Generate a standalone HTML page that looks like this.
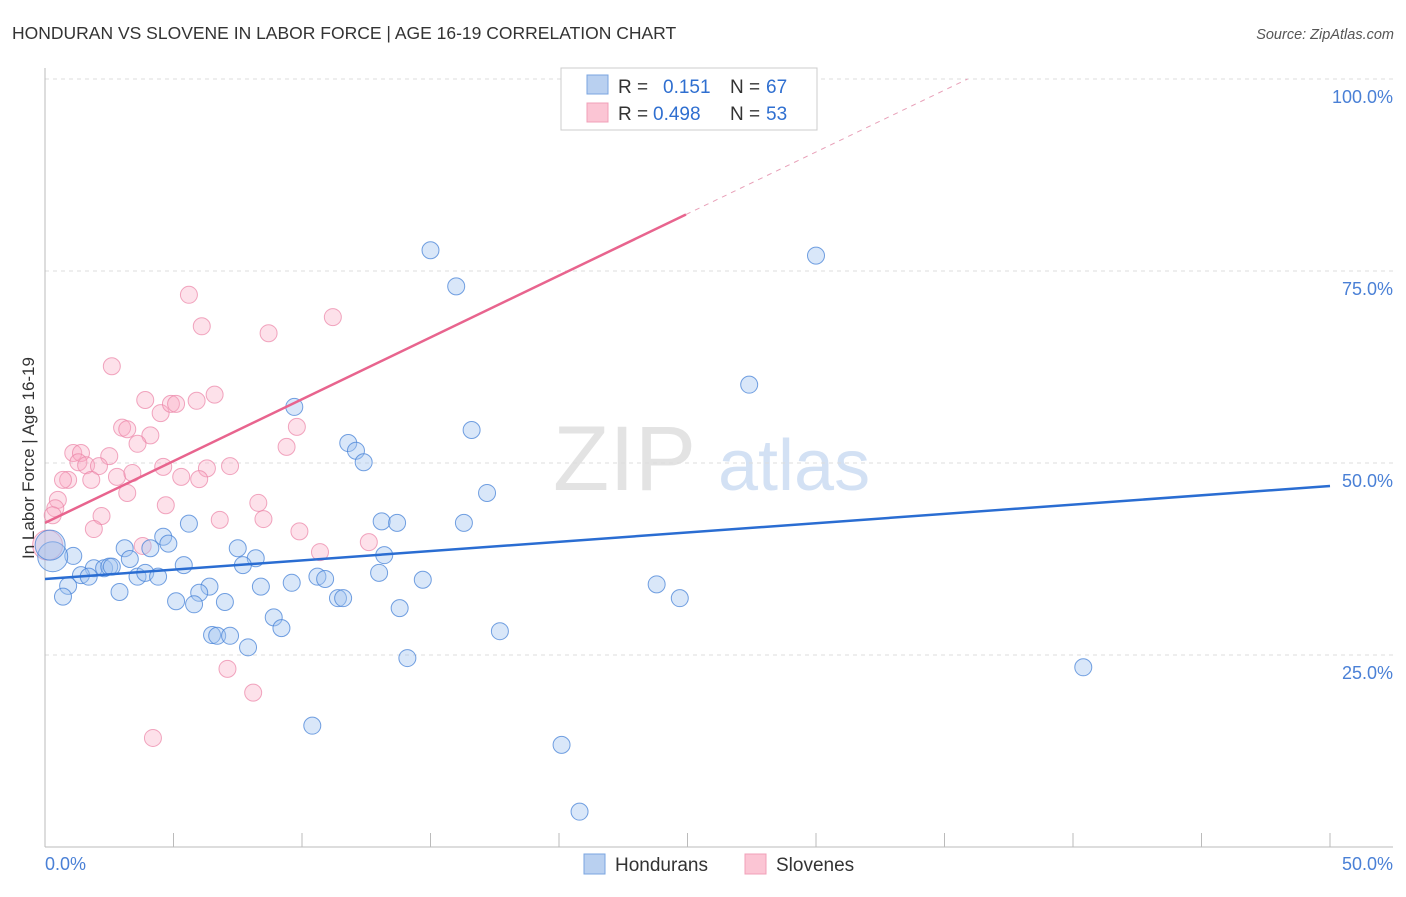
<!DOCTYPE html>
<html><head><meta charset="utf-8"><style>
body{margin:0;background:#fff;font-family:"Liberation Sans",sans-serif;}
svg text{font-family:"Liberation Sans",sans-serif;}
</style></head><body>
<svg id="chart" width="1406" height="892" xmlns="http://www.w3.org/2000/svg">
<text x="12" y="39" font-size="17.5" fill="#333">HONDURAN VS SLOVENE IN LABOR FORCE | AGE 16-19 CORRELATION CHART</text>
<text x="1394" y="39" font-size="14.5" fill="#555" text-anchor="end" font-style="italic">Source: ZipAtlas.com</text>
<g>
<text x="553" y="490" font-size="92" fill="#ddd" font-family="Liberation Serif" opacity="0.8">ZIP</text>
<text x="718" y="490" font-size="72" fill="#c9daf2" opacity="0.8">atlas</text>
</g>
<g id="grid"></g>
<g id="axes"></g>
<g id="marks"></g>
<text transform="translate(34,458) rotate(-90)" font-size="17" fill="#333" text-anchor="middle">In Labor Force | Age 16-19</text>
<g>
<rect x="561" y="68" width="256" height="62" fill="#fff" stroke="#ccc"/>
<rect x="587" y="75" width="21" height="19" fill="#b9d0f0" stroke="#7aa5e0"/>
<rect x="587" y="103" width="21" height="19" fill="#fbc5d4" stroke="#f0a0b8"/>
<text x="618" y="93" font-size="19" fill="#333">R = </text><text x="663" y="93" font-size="19" fill="#2f6fd0">0.151</text>
<text x="730" y="93" font-size="19" fill="#333">N = </text><text x="766" y="93" font-size="19" fill="#2f6fd0">67</text>
<text x="618" y="120" font-size="19" fill="#333">R = </text><text x="653" y="120" font-size="19" fill="#2f6fd0">0.498</text>
<text x="730" y="120" font-size="19" fill="#333">N = </text><text x="766" y="120" font-size="19" fill="#2f6fd0">53</text>
</g>
<g>
<rect x="584" y="854" width="21" height="20" fill="#b9d0f0" stroke="#7aa5e0"/>
<text x="615" y="871" font-size="19" fill="#333">Hondurans</text>
<rect x="745" y="854" width="21" height="20" fill="#fbc5d4" stroke="#f0a0b8"/>
<text x="776" y="871" font-size="19" fill="#333">Slovenes</text>
</g>
</svg>
<script>
const blueX=[15.0,16.0,30.0,27.4,9.7,16.6,11.8,12.1,12.4,17.2,5.6,13.1,13.7,16.3,4.6,4.8,3.1,4.1,7.5,1.1,3.3,8.2,7.7,13.2,5.4,1.9,2.3,2.5,2.6,1.4,1.7,3.6,3.9,4.4,9.6,10.6,10.9,13.0,14.7,23.8,6.4,6.0,0.9,2.9,8.4,0.7,5.1,5.8,7.0,11.4,11.6,13.8,24.7,8.9,9.2,6.5,6.7,7.2,7.9,17.7,14.1,40.4,10.4,20.1,20.8,0.3,0.2];
const blueY=[77.7,73.0,77.0,60.2,57.3,54.3,52.6,51.6,50.1,46.1,42.1,42.4,42.2,42.2,40.4,39.5,38.9,38.9,38.9,37.9,37.5,37.6,36.7,38.0,36.7,36.3,36.3,36.5,36.5,35.4,35.2,35.2,35.7,35.2,34.4,35.2,34.9,35.7,34.8,34.2,33.9,33.1,34.0,33.2,33.9,32.6,32.0,31.6,31.9,32.4,32.4,31.1,32.4,29.9,28.5,27.6,27.5,27.5,26.0,28.1,24.6,23.4,15.8,13.3,4.6,37.8,39.3];
const pinkX=[21.4,5.6,6.1,8.7,11.2,2.6,3.9,4.5,4.9,5.1,6.6,5.9,3.0,3.2,4.1,3.6,9.8,9.4,1.1,1.4,2.5,1.3,1.6,2.1,4.6,6.3,7.2,0.9,0.7,1.8,2.8,3.4,5.3,6.0,3.2,0.5,0.4,0.3,2.2,1.9,4.7,8.3,6.8,8.5,9.9,10.7,12.6,3.8,7.1,8.1,4.2,0.1];
const pinkY=[99.9,71.9,67.8,66.9,69.0,62.6,58.2,56.5,57.7,57.7,58.9,58.1,54.6,54.4,53.6,52.5,54.7,52.1,51.3,51.3,50.9,50.1,49.7,49.6,49.5,49.3,49.6,47.8,47.8,47.8,48.2,48.7,48.2,47.9,46.1,45.2,44.1,43.2,43.1,41.4,44.5,44.8,42.6,42.7,41.1,38.4,39.7,39.2,23.2,20.1,14.2,39.3];
const bigBlue=[0.3];const bigPink=[0.1];
const blueTrend=[34.9,47.0];
const pinkTrend=[42.2,1.61];
const yTicks=[100,75,50,25];
const yTickLabels=["100.0%","75.0%","50.0%","25.0%"];
const NS="http://www.w3.org/2000/svg";
const sx=v=>45+v*25.7, sy=v=>847-v*7.68;
function mk(tag,attrs,parent){const e=document.createElementNS(NS,tag);for(const k in attrs)e.setAttribute(k,attrs[k]);document.getElementById(parent).appendChild(e);return e;}
yTicks.forEach((t,i)=>{
 const g=mk('line',{x1:45,x2:1393,y1:sy(t),y2:sy(t),stroke:'#ddd','stroke-dasharray':'4,4'},'grid');
 
 
 const l=mk('text',{x:1393,y:sy(t)+24,'font-size':18,fill:'#4a80d6','text-anchor':'end'},'grid');
 l.textContent=yTickLabels[i];
 
 
});
const ax=mk('line',{x1:45,x2:45,y1:68,y2:847,stroke:'#bbb'},'axes');


const bx=mk('line',{x1:45,x2:1393,y1:847,y2:847,stroke:'#bbb'},'axes');


for(let i=1;i<=10;i++){const t=mk('line',{x1:sx(i*5),x2:sx(i*5),y1:833,y2:847,stroke:'#bbb'},'axes');
 
 }
const x0=mk('text',{x:45,y:870,'font-size':18,fill:'#4a80d6'},'axes');x0.textContent='0.0%';


const x1=mk('text',{x:1393,y:870,'font-size':18,fill:'#4a80d6','text-anchor':'end'},'axes');x1.textContent='50.0%';


pinkX.forEach((x,i)=>{const r=bigPink.includes(x)&&i===pinkX.length-1?15:8.5;
 const c=mk('circle',{cx:sx(x),cy:sy(pinkY[i]),r:r,fill:'rgba(248,170,195,0.35)',stroke:'rgba(235,130,165,0.7)','stroke-width':1},'marks');
 
 });
blueX.forEach((x,i)=>{const r=i>=blueX.length-2?15:8.5;
 const c=mk('circle',{cx:sx(x),cy:sy(blueY[i]),r:r,fill:'rgba(160,195,240,0.4)',stroke:'rgba(70,130,215,0.75)','stroke-width':1},'marks');
 
 });
const bl=mk('line',{x1:sx(0),y1:sy(blueTrend[0]),x2:sx(50),y2:sy(blueTrend[1]),stroke:'#2a6dd2','stroke-width':2.5},'marks');


const pEnd=24.94, pTop=(100-pinkTrend[0])/pinkTrend[1];
const pl=mk('line',{x1:sx(0),y1:sy(pinkTrend[0]),x2:sx(pEnd),y2:sy(pinkTrend[0]+pinkTrend[1]*pEnd),stroke:'#e8648e','stroke-width':2.5},'marks');


const pd=mk('line',{x1:sx(pEnd),y1:sy(pinkTrend[0]+pinkTrend[1]*pEnd),x2:sx(pTop),y2:sy(100),stroke:'#e8a0b8','stroke-width':1,'stroke-dasharray':'5,5'},'marks');


</script>
</body></html>
